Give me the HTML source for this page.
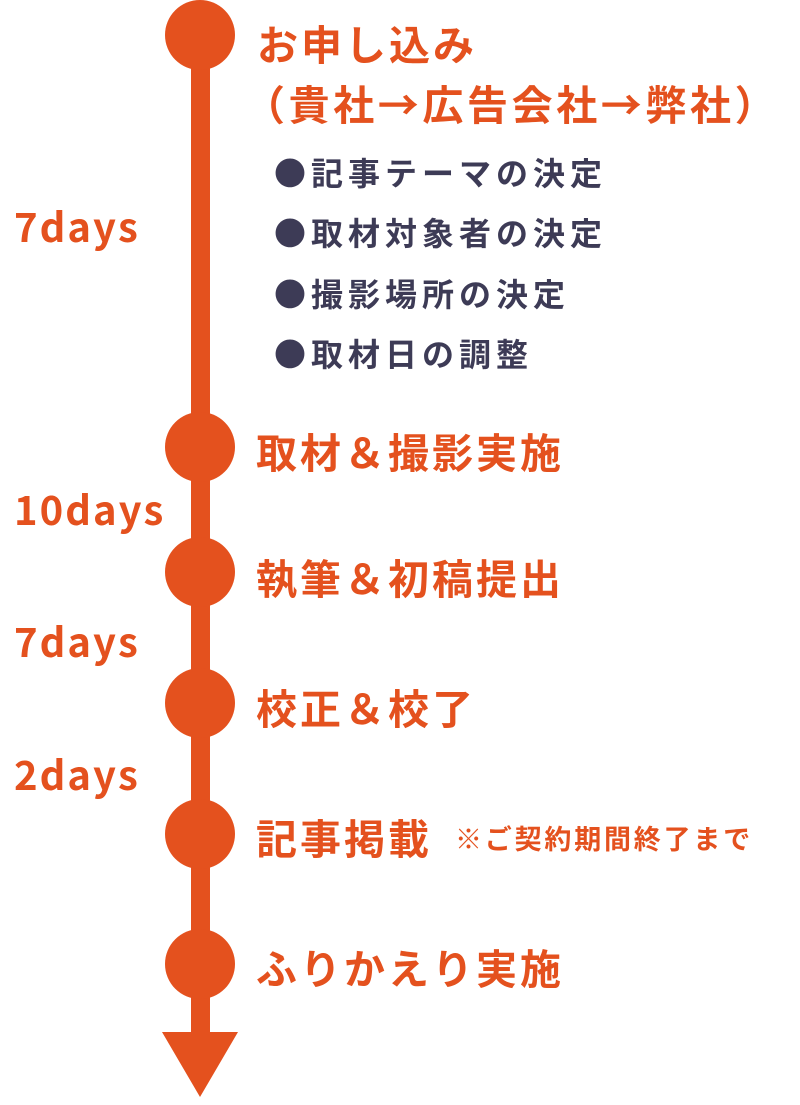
<!DOCTYPE html>
<html><head><meta charset="utf-8"><style>
html,body{margin:0;padding:0;background:#fff;}
body{width:800px;height:1105px;position:relative;overflow:hidden;font-family:"Noto Sans CJK JP",sans-serif;font-weight:bold;}
.t{position:absolute;color:#e4511e;font-size:41px;line-height:1;white-space:nowrap;letter-spacing:3px;}
.b{position:absolute;color:#3d3b56;font-size:32px;line-height:1;white-space:nowrap;letter-spacing:5px;left:274px;}
.d{position:absolute;color:#e4511e;font-size:40px;line-height:1;left:14px;letter-spacing:2px;}
</style></head><body>
<svg width="800" height="1105" style="position:absolute;left:0;top:0">
<g fill="#e4511e">
<rect x="191" y="30" width="19" height="1010"/>
<circle cx="200" cy="35" r="35"/>
<circle cx="200" cy="447" r="35"/>
<circle cx="200" cy="572" r="35"/>
<circle cx="200" cy="703" r="35"/>
<circle cx="200" cy="834" r="35"/>
<circle cx="200" cy="964" r="35"/>
<polygon points="162,1032 238,1032 200,1097"/>
</g>
</svg>
<div class="t" style="left:257px;top:22px">お申し込み</div>
<div class="t" style="left:244px;top:82px;letter-spacing:3.6px">（貴社→広告会社→弊社）</div>
<div class="b" style="top:156px">●記事テーマの決定</div>
<div class="b" style="top:216px">●取材対象者の決定</div>
<div class="b" style="top:277px">●撮影場所の決定</div>
<div class="b" style="top:337px">●取材日の調整</div>
<div class="d" style="top:205px">7days</div>
<div class="t" style="left:256px;top:430px">取材＆撮影実施</div>
<div class="d" style="top:488px">10days</div>
<div class="t" style="left:256px;top:556px">執筆＆初稿提出</div>
<div class="d" style="top:620px">7days</div>
<div class="t" style="left:256px;top:686px">校正＆校了</div>
<div class="d" style="top:753px">2days</div>
<div class="t" style="left:256px;top:816px">記事掲載</div>
<div class="t" style="left:455px;top:824px;font-size:27px;letter-spacing:2.8px">※ご契約期間終了まで</div>
<div class="t" style="left:256px;top:946px">ふりかえり実施</div>
</body></html>
